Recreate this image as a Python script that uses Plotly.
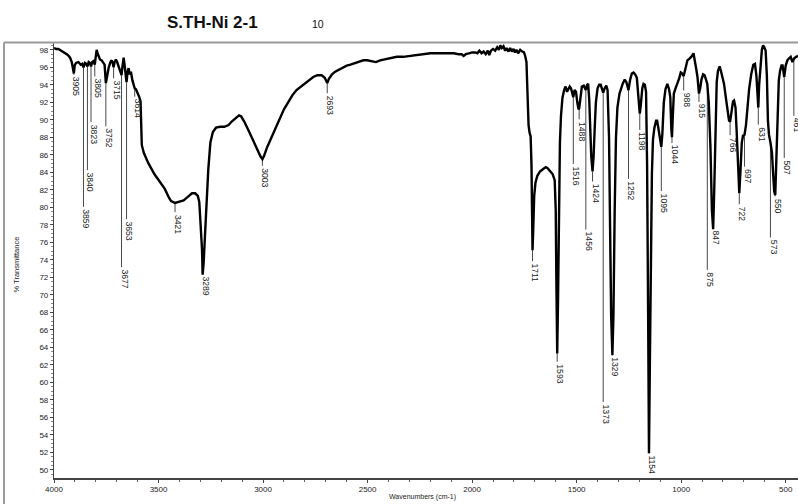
import numpy as np
import plotly.graph_objects as go

# ---------------- data ----------------
title_text = "S.TH-Ni 2-1"
title_tag = "10"
x_title = "Wavenumbers (cm-1)"
y_title = "% Transmittance"

wavenumber = [
    4000, 3990, 3979, 3965, 3955, 3945, 3939, 3930, 3923, 3915, 3909, 3905, 3901, 3895, 3883,
    3872, 3865, 3859, 3852, 3846, 3840, 3834, 3828, 3823, 3817, 3811, 3805, 3800, 3796, 3792,
    3787, 3780, 3772, 3765, 3758, 3752, 3746, 3738, 3730, 3724, 3719, 3715, 3710, 3704, 3698,
    3690, 3683, 3677, 3672, 3667, 3663, 3658, 3653, 3648, 3643, 3638, 3632, 3625, 3619, 3614,
    3608, 3600, 3592, 3586, 3583, 3580, 3570, 3550, 3520, 3490, 3470, 3450, 3440, 3421, 3405,
    3380, 3360, 3340, 3325, 3312, 3305, 3298, 3292, 3289, 3284, 3278, 3270, 3262, 3252, 3240,
    3225, 3205, 3185, 3165, 3150, 3130, 3115, 3105, 3090, 3070, 3050, 3030, 3012, 3003, 2995,
    2980, 2960, 2940, 2920, 2900, 2880, 2860, 2840, 2820, 2800, 2780, 2760, 2740, 2720, 2705,
    2693, 2685, 2670, 2655, 2638, 2620, 2600, 2582, 2560, 2540, 2520, 2502, 2480, 2460, 2440,
    2420, 2391, 2360, 2330, 2300, 2280, 2250, 2220, 2200, 2170, 2140, 2110, 2088, 2065, 2050,
    2041, 2030, 2015, 2000, 1985, 1975, 1965, 1955, 1945, 1935, 1925, 1918, 1910, 1900, 1890,
    1880, 1872, 1865, 1858, 1850, 1842, 1835, 1826, 1818, 1810, 1802, 1795, 1788, 1780, 1770,
    1760, 1752, 1746, 1740, 1735, 1730, 1725, 1720, 1716, 1713, 1711, 1708, 1703, 1697, 1688,
    1675, 1660, 1648, 1640, 1628, 1615, 1605, 1600, 1597, 1593, 1589, 1585, 1580, 1575, 1568,
    1560, 1553, 1546, 1540, 1533, 1527, 1520, 1516, 1510, 1503, 1497, 1491, 1488, 1482, 1475,
    1466, 1460, 1456, 1450, 1445, 1440, 1435, 1430, 1424, 1419, 1414, 1408, 1400, 1392, 1385,
    1378, 1373, 1366, 1358, 1352, 1345, 1340, 1335, 1329, 1324, 1318, 1312, 1305, 1295, 1280,
    1270, 1262, 1252, 1244, 1236, 1228, 1220, 1212, 1205, 1198, 1193, 1186, 1180, 1174, 1168,
    1163, 1158, 1154, 1150, 1145, 1140, 1135, 1128, 1120, 1115, 1108, 1100, 1095, 1090, 1083,
    1075, 1066, 1058, 1052, 1047, 1044, 1040, 1035, 1027, 1018, 1010, 1002, 996, 988, 980,
    970, 960, 955, 948, 941, 935, 928, 922, 915, 909, 903, 895, 888, 880, 875,
    868, 860, 853, 847, 842, 836, 830, 824, 816, 810, 803, 795, 785, 777, 771,
    766, 760, 752, 747, 740, 735, 728, 722, 716, 710, 704, 697, 690, 683, 675,
    665, 655, 647, 640, 635, 631, 627, 620, 614, 608, 602, 596, 590, 585, 580,
    573, 566, 560, 555, 550, 545, 540, 533, 527, 520, 515, 510, 507, 500, 492,
    485, 476, 468, 460, 450, 441,
]

transmittance = [
    98.2, 98.1, 98.1, 97.9, 97.7, 97.6, 97.5, 97.3, 97.1, 96.6, 95.8, 95.3, 96.2, 96.5, 96.6,
    96.3, 96.4, 96.0, 96.5, 96.4, 96.1, 96.6, 96.5, 96.1, 96.6, 96.7, 96.3, 97.2, 98.0, 97.6,
    97.3, 96.9, 96.8, 96.6, 96.3, 94.2, 95.2, 96.0, 96.6, 96.8, 96.5, 96.0, 96.6, 96.9, 96.6,
    96.0, 95.6, 95.1, 96.2, 97.1, 96.4, 95.2, 94.3, 95.5, 95.9, 95.2, 95.5, 94.5, 93.9, 93.6,
    93.5, 93.1, 92.6, 92.1, 88.9, 87.1, 86.2, 85.1, 83.8, 82.7, 82.1, 81.1, 80.7, 80.5, 80.6,
    80.8, 81.2, 81.6, 81.6, 81.3, 80.6, 78.2, 75.2, 72.3, 73.7, 76.7, 80.8, 84.3, 87.4, 88.6,
    89.1, 89.2, 89.2, 89.4, 89.8, 90.2, 90.5, 90.4, 89.8, 88.8, 87.7, 86.6, 85.8, 85.5, 85.9,
    86.9, 88.0, 89.1, 90.2, 91.2, 92.0, 92.8, 93.4, 93.8, 94.2, 94.6, 94.9, 95.1, 95.1, 94.8,
    94.2, 94.7, 95.2, 95.5, 95.7, 96.0, 96.2, 96.3, 96.5, 96.6, 96.8, 96.8, 96.7, 96.6, 96.8,
    96.9, 97.1, 97.2, 97.2, 97.3, 97.3, 97.4, 97.5, 97.6, 97.6, 97.6, 97.6, 97.6, 97.5, 97.5,
    97.3, 97.5, 97.6, 97.7, 97.7, 97.6, 97.9, 97.6, 97.8, 97.5, 97.9, 97.4, 97.9, 98.1, 97.9,
    98.3, 98.0, 98.5, 98.2, 98.4, 97.9, 98.2, 97.8, 98.2, 97.8, 98.1, 97.7, 98.0, 97.6, 98.0,
    97.8, 97.7, 97.3, 96.6, 93.0, 89.4, 88.5, 88.1, 84.8, 77.7, 75.1, 77.2, 81.3, 82.8, 83.6,
    84.1, 84.4, 84.6, 84.5, 84.2, 83.8, 83.1, 79.7, 71.6, 63.3, 69.5, 79.7, 87.4, 90.4, 92.5,
    93.4, 93.8, 93.2, 93.5, 93.8, 93.6, 92.8, 92.6, 93.4, 93.2, 92.0, 91.2, 91.3, 92.8, 93.8,
    93.9, 93.5, 93.4, 94.0, 94.1, 92.4, 88.9, 85.8, 84.1, 85.8, 88.8, 92.0, 93.6, 94.0, 94.0,
    93.5, 93.1, 93.6, 93.9, 93.4, 87.9, 77.7, 67.6, 63.1, 67.6, 79.7, 87.9, 91.4, 93.0, 94.1,
    94.6, 94.3, 93.4, 94.6, 95.3, 95.4, 95.2, 94.8, 92.4, 90.7, 91.7, 93.6, 94.1, 94.0, 93.2,
    84.8, 67.6, 51.9, 61.5, 74.7, 83.8, 87.7, 89.1, 89.9, 89.9, 88.9, 87.5, 86.9, 88.4, 92.0,
    93.5, 94.1, 93.5, 92.6, 88.9, 88.0, 90.4, 93.0, 93.6, 94.1, 94.7, 95.4, 95.3, 95.0, 96.0,
    96.8, 97.0, 97.1, 97.3, 97.6, 96.9, 95.8, 94.9, 93.0, 93.6, 94.6, 95.2, 95.1, 94.5, 94.1,
    92.0, 86.9, 79.7, 77.5, 81.8, 89.9, 94.3, 95.6, 96.1, 95.6, 95.0, 94.1, 92.3, 90.7, 89.9,
    89.8, 90.9, 92.1, 92.2, 91.4, 88.9, 83.8, 81.6, 84.3, 87.4, 88.2, 88.3, 89.4, 91.4, 93.5,
    95.2, 96.3, 96.4, 95.0, 93.0, 91.4, 94.0, 96.8, 98.0, 98.5, 98.3, 97.9, 95.0, 89.9, 88.3,
    87.4, 86.3, 83.8, 81.8, 81.4, 85.8, 90.9, 94.5, 95.6, 96.2, 96.2, 95.5, 94.9, 96.2, 96.8,
    97.0, 97.2, 96.6, 97.0, 97.2, 97.3,
]

peak_wn = [3905, 3859, 3840, 3823, 3805, 3752, 3715, 3677, 3653, 3614, 3421, 3289, 3003, 2693,
           1711, 1593, 1516, 1488, 1456, 1424, 1373, 1329, 1252, 1198, 1154, 1095, 1044, 988,
           915, 875, 847, 766, 722, 697, 631, 573, 550, 507, 461]
peak_label_T = [95.0, 79.9, 84.1, 89.6, 94.8, 89.1, 94.6, 73.0, 78.5, 92.5, 79.3, 72.2, 84.6, 92.9,
                73.7, 62.2, 84.8, 89.9, 77.3, 82.8, 57.6, 63.0, 83.1, 88.7, 51.7, 81.7, 87.2, 93.2,
                91.9, 72.7, 77.5, 88.1, 80.2, 84.5, 89.3, 76.4, 81.1, 85.5, 90.3]

y_tick_vals = list(range(50, 100, 2))
x_tick_vals = [4000, 3500, 3000, 2500, 2000, 1500, 1000, 500]

# ---------------- figure ----------------
W, H = 798, 504
ML, MR, MT, MB = 54, 0, 43, 26
pw, ph = W - ML - MR, H - MT - MB
PX_PER_CM = 731.7 / 3500.0

def px_to_paper_x(px):
    return (px - ML) / pw

def px_to_paper_y(py):
    return (H - MB - py) / ph

fig = go.Figure()

# leader lines from the curve down to the peak labels
order = np.argsort(wavenumber)
wn_sorted = np.array(wavenumber)[order]
t_sorted = np.array(transmittance)[order]
peak_curve_T = np.interp(peak_wn, wn_sorted, t_sorted)
lx, ly = [], []
for w, t0, t1 in zip(peak_wn, peak_curve_T, peak_label_T):
    lx += [w, w, None]
    ly += [t0, t1 + 0.15, None]
fig.add_trace(go.Scatter(x=lx, y=ly, mode="lines",
                         line=dict(color="#333333", width=0.9),
                         hoverinfo="skip", showlegend=False))

fig.add_trace(go.Scatter(x=wavenumber, y=transmittance, mode="lines",
                         line=dict(color="black", width=2.4),
                         showlegend=False))

label_font = dict(family="Liberation Sans, Arial", size=8.6, color="#222222")
for w, t1 in zip(peak_wn, peak_label_T):
    fig.add_annotation(x=w, y=t1, text=str(w), textangle=90, showarrow=False,
                       xanchor="center", yanchor="top", xshift=3, borderpad=0,
                       font=label_font)

# title texts
fig.add_annotation(x=px_to_paper_x(212.5), y=px_to_paper_y(22.5), xref="paper", yref="paper",
                   text="<b>" + title_text + "</b>", showarrow=False,
                   xanchor="center", yanchor="middle",
                   font=dict(family="Liberation Sans, Arial", size=17, color="#111111"))
fig.add_annotation(x=px_to_paper_x(317.5), y=px_to_paper_y(24.5), xref="paper", yref="paper",
                   text=title_tag, showarrow=False, xanchor="center", yanchor="middle",
                   font=dict(family="Liberation Sans, Arial", size=10.5, color="#111111"))
fig.add_annotation(x=px_to_paper_x(422), y=px_to_paper_y(497), xref="paper", yref="paper",
                   text=x_title, showarrow=False, xanchor="center", yanchor="middle",
                   font=dict(family="Liberation Sans, Arial", size=7, color="#222222"))
fig.add_annotation(x=px_to_paper_x(15.5), y=px_to_paper_y(265), xref="paper", yref="paper",
                   text=y_title, showarrow=False, textangle=-90, xanchor="center", yanchor="middle",
                   font=dict(family="Liberation Sans, Arial", size=7.5, color="#222222"))

# outer gray frame (top and left)
fig.add_shape(type="line", xref="paper", yref="paper",
              x0=px_to_paper_x(4), x1=px_to_paper_x(798), y0=px_to_paper_y(42.5), y1=px_to_paper_y(42.5),
              line=dict(color="#9a9a9a", width=2))
fig.add_shape(type="line", xref="paper", yref="paper",
              x0=px_to_paper_x(4), x1=px_to_paper_x(4), y0=px_to_paper_y(42.5), y1=px_to_paper_y(504),
              line=dict(color="#9a9a9a", width=2))

tickfont = dict(family="Liberation Sans, Arial", size=8, color="#222222")
x_lo = 4000 - pw / PX_PER_CM
fig.update_layout(
    width=W, height=H,
    margin=dict(l=ML, r=MR, t=MT, b=MB, autoexpand=False),
    paper_bgcolor="white", plot_bgcolor="white",
    xaxis=dict(range=[4000, x_lo], tickvals=x_tick_vals, ticktext=[str(v) for v in x_tick_vals],
               showgrid=False, zeroline=False, showline=True, linecolor="#444444", linewidth=1.5,
               ticks="outside", ticklen=3, tickcolor="#444444", tickfont=tickfont,
               automargin=False,
               minor=dict(dtick=100, ticks="outside", ticklen=2, tickcolor="#666666")),
    yaxis=dict(range=[49.06, 98.78], tickvals=y_tick_vals, ticktext=[str(v) for v in y_tick_vals],
               showgrid=False, zeroline=False, showline=True, linecolor="#444444", linewidth=1.2,
               ticks="outside", ticklen=3, tickcolor="#444444", tickfont=tickfont,
               automargin=False,
               minor=dict(dtick=0.5, ticks="outside", ticklen=1.5, tickcolor="#888888")),
)

fig.write_html("out.html", config={"displayModeBar": False},
               post_script="document.body.style.margin='0px';document.body.style.overflow='hidden';")
